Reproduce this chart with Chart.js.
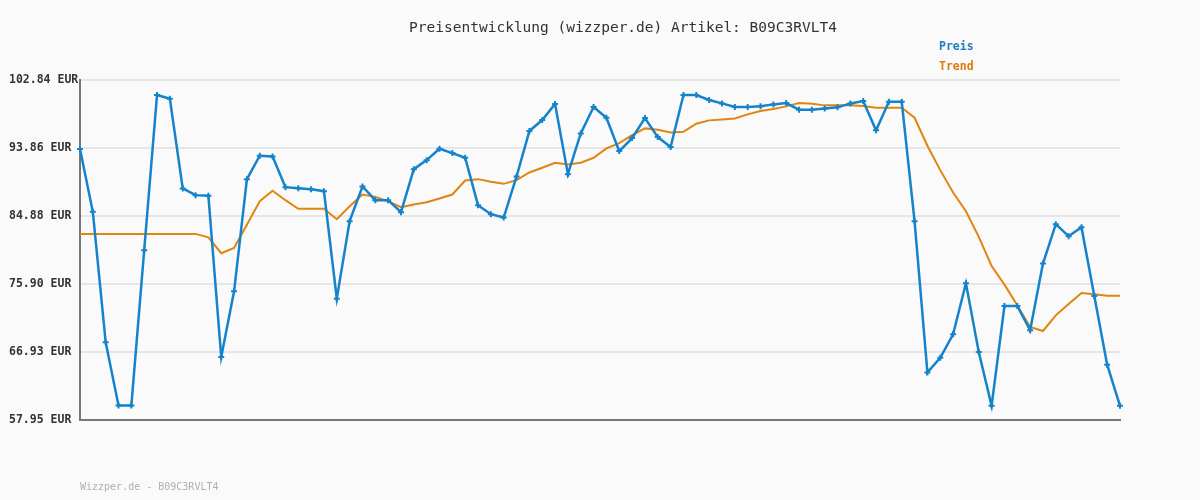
<!DOCTYPE html>
<html>
<head>
<meta charset="utf-8">
<script src="https://cdn.jsdelivr.net/npm/chart.js@4/dist/chart.umd.min.js"></script>
<style>
  body { margin: 0; background: #fafafa; }
  #wrap { width: 1200px; height: 500px; }
</style>
</head>
<body>
<div id="wrap"><canvas id="myChart" width="1200" height="500"></canvas></div>
<script>
  const titel = 'Preisentwicklung (wizzper.de) Artikel: B09C3RVLT4';
  const fusszeile = 'Wizzper.de - B09C3RVLT4';

  const preis = [
    93.72, 85.43, 68.20, 59.87, 59.87, 80.36, 100.86, 100.37, 88.52, 87.64,
    87.55, 66.26, 74.94, 89.75, 92.84, 92.75, 88.69, 88.56, 88.43, 88.16,
    73.97, 84.20, 88.78, 86.97, 86.97, 85.39, 91.07, 92.26, 93.76, 93.19,
    92.57, 86.31, 85.12, 84.68, 90.10, 96.10, 97.55, 99.67, 90.41, 95.79,
    99.27, 97.86, 93.45, 95.17, 97.82, 95.30, 93.98, 100.86, 100.86, 100.20,
    99.75, 99.27, 99.27, 99.36, 99.62, 99.80, 98.92, 98.92, 99.09, 99.23,
    99.75, 100.06, 96.19, 99.98, 99.98, 84.20, 64.23, 66.17, 69.26, 76.00,
    66.92, 59.83, 73.00, 73.00, 69.79, 78.60, 83.80, 82.21, 83.40, 74.32,
    65.25, 59.83
  ];

  const trend = [
    82.52, 82.52, 82.52, 82.52, 82.52, 82.52, 82.52, 82.52, 82.52, 82.52,
    82.07, 79.97, 80.67, 83.73, 86.84, 88.21, 86.97, 85.83, 85.83, 85.83,
    84.46, 86.18, 87.72, 87.41, 86.84, 86.05, 86.40, 86.71, 87.19, 87.72,
    89.57, 89.75, 89.40, 89.13, 89.62, 90.63, 91.25, 91.91, 91.69, 91.91,
    92.57, 93.81, 94.51, 95.57, 96.45, 96.27, 95.92, 96.01, 97.07, 97.51,
    97.64, 97.77, 98.30, 98.74, 99.01, 99.36, 99.80, 99.71, 99.49, 99.49,
    99.49, 99.40, 99.18, 99.18, 99.18, 97.86, 94.16, 90.94, 87.99, 85.52,
    82.13, 78.29, 75.82, 73.09, 70.23, 69.70, 71.77, 73.27, 74.72, 74.55,
    74.37, 74.37
  ];

  const yTicks = [57.95, 66.93, 75.90, 84.88, 93.86, 102.84];
  const labels = preis.map((_, i) => i + 1);

  // Titel, Legende und Fusszeile selbst zeichnen
  const texte = {
    id: 'texte',
    afterDraw(chart) {
      const ctx = chart.ctx;
      ctx.save();
      ctx.textBaseline = 'middle';
      ctx.textAlign = 'center';
      ctx.fillStyle = '#333';
      ctx.font = '14.5px "DejaVu Sans Mono"';
      ctx.fillText(titel, 623, 28);

      ctx.textAlign = 'left';
      ctx.font = 'bold 11.5px "DejaVu Sans Mono"';
      ctx.fillStyle = '#1a7fc4';
      ctx.fillText('Preis', 939, 47);
      ctx.fillStyle = '#dd7a0f';
      ctx.fillText('Trend', 939, 67);

      ctx.font = '10px "DejaVu Sans Mono"';
      ctx.fillStyle = '#b0b0b0';
      ctx.fillText(fusszeile, 80, 487);
      ctx.restore();
    }
  };

  const data = {
    labels: labels,
    datasets: [{
      label: 'Preis',
      data: preis,
      borderColor: '#1583cc',
      backgroundColor: '#1583cc',
      borderWidth: 2.5,
      pointStyle: 'cross',
      pointRadius: 3,
      pointBorderWidth: 2,
      tension: 0,
      order: 1
    }, {
      label: 'Trend',
      data: trend,
      borderColor: '#e0850f',
      borderWidth: 2,
      pointRadius: 0,
      tension: 0,
      order: 2
    }]
  };

  const config = {
    type: 'line',
    data: data,
    options: {
      responsive: false,
      animation: false,
      layout: { padding: { left: 9, right: 80, top: 80, bottom: 80 } },
      plugins: {
        legend: { display: false },
        title: { display: false },
        tooltip: { enabled: false }
      },
      scales: {
        x: {
          offset: false,
          grid: { display: false },
          ticks: { display: false },
          border: { display: true, color: '#777', width: 2 },
          afterFit: (s) => { s.height = 0; }
        },
        y: {
          min: 57.95,
          max: 102.84,
          afterBuildTicks: (s) => { s.ticks = yTicks.map(v => ({ value: v })); },
          afterFit: (s) => { s.width = 71; },
          grid: { color: '#e6e6e6', lineWidth: 2, drawTicks: false },
          border: { display: true, color: '#777', width: 2 },
          ticks: {
            crossAlign: 'far',
            color: '#333',
            font: { family: 'DejaVu Sans Mono', size: 11.5, weight: 'bold' },
            callback: (v) => Number(v).toFixed(2) + ' EUR'
          }
        }
      }
    },
    plugins: [texte]
  };

  const myChart = new Chart(document.getElementById('myChart'), config);
</script>
</body>
</html>
